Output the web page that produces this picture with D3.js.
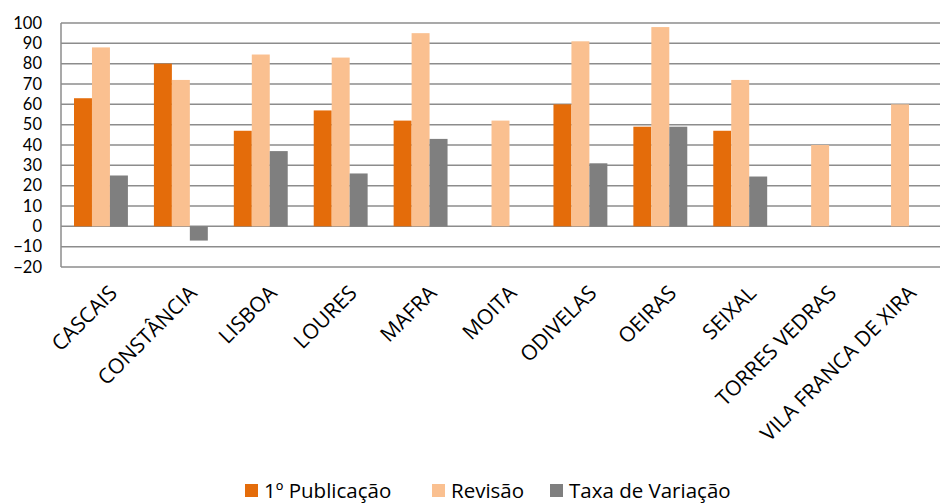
<!DOCTYPE html>
<html>
<head>
<meta charset="utf-8">
<script src="https://cdn.jsdelivr.net/npm/d3@7"></script>
<style>
    body { margin: 0; background: #fff; }
    svg { display: block; font-family: 'Open Sans', sans-serif; }
</style>
</head>
<body>
<svg></svg>
<script>
// data
let categories = ['CASCAIS', 'CONSTÂNCIA', 'LISBOA', 'LOURES', 'MAFRA', 'MOITA',
    'ODIVELAS', 'OEIRAS', 'SEIXAL', 'TORRES VEDRAS', 'VILA FRANCA DE XIRA'];
let seriesNames = ['1º Publicação', 'Revisão', 'Taxa de Variação'];
let primeira = [63, 80, 47, 57, 52, null, 60, 49, 47, null, null];
let revisao = [88, 72, 84.5, 83, 95, 52, 91, 98, 72, 40, 60];
let taxa = [25, -7, 37, 26, 43, null, 31, 49, 24.5, null, null];
let yTicks = [-20, -10, 0, 10, 20, 30, 40, 50, 60, 70, 80, 90, 100];

const WIDTH = 941, HEIGHT = 504;
const colors = ['#E46C0A', '#FAC090', '#7F7F7F'];

let svg = d3.select('svg')
    .attr('width', WIDTH)
    .attr('height', HEIGHT);

let x0 = d3.scaleBand()
    .domain(categories)
    .range([61, 940]);

let x1 = d3.scaleBand()
    .domain(seriesNames)
    .range([13, x0.bandwidth() - 13]);

let y = d3.scaleLinear()
    .domain([-20, 100])
    .range([267, 23]);

let color = d3.scaleOrdinal()
    .domain(seriesNames)
    .range(colors);

// gridlines
svg.append('g')
    .classed('grid', true)
    .selectAll('line')
    .data(yTicks)
    .enter()
    .append('line')
        .attr('x1', 61)
        .attr('x2', 940)
        .attr('y1', (d) => y(d))
        .attr('y2', (d) => y(d))
        .attr('stroke', '#8C8C8C')
        .attr('stroke-width', 1.5);

svg.append('line')
    .attr('x1', 61).attr('x2', 61)
    .attr('y1', y(100)).attr('y2', y(-20))
    .attr('stroke', '#8C8C8C')
    .attr('stroke-width', 1.5);

// y axis labels
let yAxis = svg.append('g')
    .attr('transform', 'translate(42,0)')
    .call(d3.axisLeft(y).tickValues(yTicks).tickSize(0).tickPadding(0));
yAxis.select('.domain').remove();
yAxis.selectAll('text')
    .attr('font-size', 16.5)
    .attr('font-family', 'Lato, sans-serif')
    .attr('fill', '#000');

// bars
let rows = categories.map((c, i) => ({
    cat: c,
    values: [primeira[i], revisao[i], taxa[i]]
}));

let groups = svg.append('g')
    .classed('bars', true)
    .selectAll('g')
    .data(rows)
    .enter()
    .append('g')
        .attr('transform', (d) => `translate(${x0(d.cat)},0)`);

groups.selectAll('rect')
    .data((d) => d.values.map((v, j) => ({ key: seriesNames[j], value: v })).filter((e) => e.value !== null))
    .enter()
    .append('rect')
        .attr('x', (d) => x1(d.key))
        .attr('width', x1.bandwidth())
        .attr('y', (d) => y(Math.max(0, d.value)))
        .attr('height', (d) => Math.abs(y(d.value) - y(0)))
        .attr('fill', (d) => color(d.key));

// x labels, rotated
svg.append('g')
    .classed('xLabels', true)
    .selectAll('text')
    .data(categories)
    .enter()
    .append('text')
        .attr('transform', (d) => `translate(${x0(d) + x0.bandwidth() / 2 + 7},${284}) rotate(-45)`)
        .attr('text-anchor', 'end')
        .attr('dy', '0.7em')
        .attr('font-size', 21)
        .text((d) => d);

// legend
let legendX = [245, 432, 550];
let legend = svg.append('g')
    .classed('legend', true)
    .selectAll('g')
    .data(seriesNames)
    .enter()
    .append('g')
        .attr('transform', (d, i) => `translate(${legendX[i]},484)`);
legend.append('rect')
    .attr('width', 13)
    .attr('height', 13)
    .attr('fill', (d) => color(d));
legend.append('text')
    .attr('x', 19)
    .attr('y', 14)
    .attr('font-size', 20.5)
    .text((d) => d);
</script>
</body>
</html>
